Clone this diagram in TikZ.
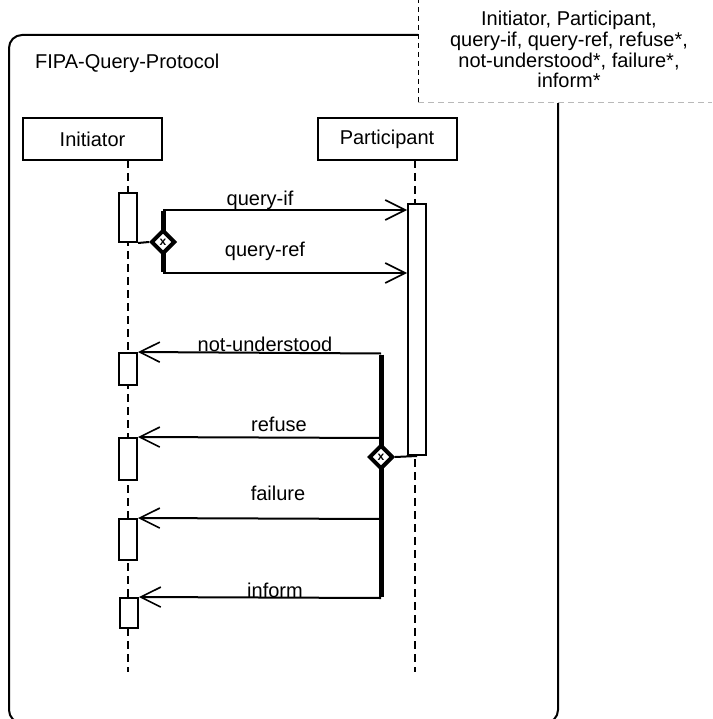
\documentclass[tikz,border=0pt]{standalone}
\usepackage{fontspec}
\setmainfont{Liberation Sans}
\usetikzlibrary{arrows.meta,shapes.geometric}
\begin{document}
\begin{tikzpicture}[x=1pt,y=-1pt,
  txt/.style={font=\fontsize{20}{24}\selectfont, inner sep=0pt},
  lbl/.style={txt, anchor=base},
  headbox/.style={draw, line width=2pt, fill=white, minimum height=42pt, minimum width=139pt, txt},
  life/.style={line width=2pt, dash pattern=on 8pt off 5pt},
  actbox/.style={draw, line width=2pt, fill=white, minimum width=18pt, inner sep=0pt},
  msg/.style={line width=2pt, -{Straight Barb[length=20pt,width=20pt,line width=1.6pt]}},
  bar/.style={line width=5pt},
  xordia/.style={diamond, draw, line width=4pt, fill=white, minimum size=24pt, inner sep=0pt, font=\fontsize{12}{12}\selectfont\bfseries}
]
\useasboundingbox (0,0) rectangle (712,719);
\clip (0,0) rectangle (712,719);
% frame
\draw[line width=2pt, rounded corners=13pt] (9,35) rectangle (558,723);
\node[lbl, anchor=base west] (title) at (35,69) {FIPA-Query-Protocol};
% note
\fill[white] (418,-5) rectangle (720,103);
\draw[line width=1pt, dash pattern=on 5pt off 4pt] (418,-2) -- (418,103);
\draw[gray!55, line width=1pt, dash pattern=on 6pt off 4pt] (418,103) -- (712,103);
\node[lbl] (n1) at (569,26) {Initiator, Participant,};
\node[lbl] (n2) at (569,47) {query-if, query-ref, refuse*,};
\node[lbl] (n3) at (569,67.5) {not-understood*, failure*,};
\node[lbl] (n4) at (569,88) {inform*};
% lifelines
\coordinate (il) at (128,160);
\coordinate (pl) at (415,160);
\draw[life] (il) -- (128,672);
\draw[life] (pl) -- (415,672);
% heads
\node[headbox] (ini) at (92.5,139) {Initiator};
\node[headbox] (par) at (387,139) {Participant};
% activations
\node[actbox, minimum height=49pt] (a1) at (128,217.5) {};
\node[actbox, minimum height=32pt] (a2) at (128,369) {};
\node[actbox, minimum height=42pt] (a3) at (128,459) {};
\node[actbox, minimum height=41pt] (a4) at (128,539.5) {};
\node[actbox, minimum height=30pt] (a5) at (129,613) {};
\node[actbox, minimum height=251pt] (p1) at (417,329.5) {};
% outgoing branch
\coordinate (b1t) at (163,210);
\coordinate (b1b) at (163,273);
\draw[bar] ([yshift=-1pt]b1t) -- ([yshift=1pt]b1b);
\node[xordia] (d1) at (163,242) {x};
\draw[line width=2pt] (a1.south east) -- (d1.west);
\draw[msg] (b1t) -- (b1t -| p1.west);
\draw[msg] (b1b) -- (b1b -| p1.west);
\node[lbl] (l1) at (260,206) {query-if};
\node[lbl] (l2) at (265,256) {query-ref};
% reply branch
\coordinate (r1) at (381,353.5);
\coordinate (r2) at (381,438);
\coordinate (r3) at (381,519);
\coordinate (r4) at (381,598);
\draw[bar] ([yshift=-1pt]r1) -- ([yshift=1pt]r4);
\node[xordia] (d2) at (381,457) {x};
\draw[line width=2pt] (d2.east) -- (p1.south);
\draw[msg] (r1) -- (a2.north east);
\draw[msg] (r2) -- (a3.north east);
\draw[msg] (r3) -- (a4.north east);
\draw[msg] (r4) -- (a5.north east);
\node[lbl] (l3) at (265,351) {not-understood};
\node[lbl] (l4) at (279,431) {refuse};
\node[lbl] (l5) at (278,500) {failure};
\node[lbl] (l6) at (275,597) {inform};
\end{tikzpicture}
\end{document}
